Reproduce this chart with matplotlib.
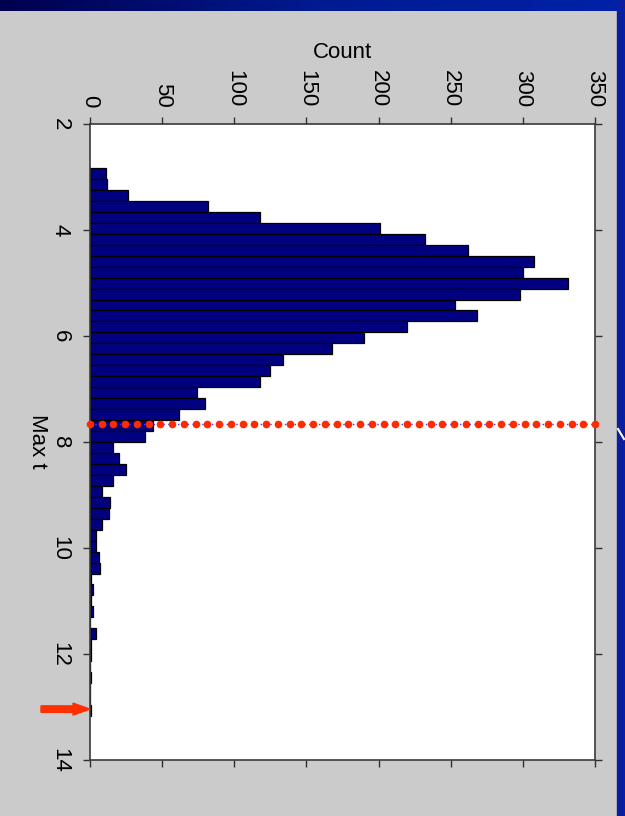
import numpy as np
import matplotlib
matplotlib.use("Agg")
import matplotlib.pyplot as plt
import matplotlib.patches as mpatches
from matplotlib.colors import LinearSegmentedColormap

plt.rcParams['font.family'] = ['Liberation Sans', 'DejaVu Sans']

# Histogram of the maximum t statistic (50 equal-width bins)
bin_start = 2.83
bin_width = 0.2068
counts = [11, 12, 26, 82, 118, 201, 232, 262, 308, 300,
          331, 298, 253, 268, 220, 190, 168, 134, 125, 118,
          74, 80, 62, 44, 38, 16, 20, 25, 16, 8,
          14, 13, 8, 4, 4, 6, 7, 1, 2, 1,
          2, 0, 4, 1, 1, 0, 1, 0, 0, 1]
threshold = 7.66      # cut-off marked by the dotted line
observed = 13.04      # value pointed at by the arrow

count_ticks = [0, 50, 100, 150, 200, 250, 300, 350]
maxt_ticks = [2, 4, 6, 8, 10, 12, 14]

W, H = 625, 816
fig = plt.figure(figsize=(W / 100, H / 100), dpi=100)

# slide background: grey panel with blue border strips
bg = fig.add_axes([0, 0, 1, 1], zorder=0)
bg.set_xlim(0, W)
bg.set_ylim(H, 0)
bg.axis('off')
bg.add_patch(mpatches.Rectangle((0, 0), W, H, color='#cbcbcb'))
grad = LinearSegmentedColormap.from_list('band', ['#00004e', '#001a90', '#0022a8'])
bg.imshow(np.linspace(0, 1, 256)[None, :], extent=(0, W, 11, 0),
          cmap=grad, aspect='auto', zorder=2)
bg.add_patch(mpatches.Rectangle((617, 0), W - 617, H, color='#0a1f9e', zorder=2))
bg.plot([618, 624], [429, 439], color='white', lw=1.5, zorder=3)

# main (rotated) histogram
ax = fig.add_axes([90 / W, 1 - 760 / H, 505 / W, 636 / H], zorder=1)
ax.set_facecolor('white')
n = len(counts)
edges = bin_start + bin_width * np.arange(n + 1)
centers = (edges[:-1] + edges[1:]) / 2
ax.barh(centers, counts, height=bin_width, color='#000080',
        edgecolor='black', linewidth=0.9, zorder=2)

ax.set_xlim(0, 350)
ax.set_ylim(14, 2)
ax.set_xticks(count_ticks)
ax.set_yticks(maxt_ticks)
ax.tick_params(axis='x', top=True, bottom=True, labeltop=True, labelbottom=False,
               direction='out', length=5, width=1, color='#303030',
               labelsize=16, pad=7, labelrotation=-90)
ax.tick_params(axis='y', left=True, right=True, labelleft=True, labelright=False,
               direction='out', length=5, width=1, color='#303030',
               labelsize=16, pad=9, labelrotation=-90)
for lbl in ax.get_xticklabels():
    lbl.set_verticalalignment('bottom')
    lbl.set_horizontalalignment('center')
for lbl in ax.get_yticklabels():
    lbl.set_verticalalignment('center')
    lbl.set_horizontalalignment('right')
for s in ax.spines.values():
    s.set_color('#3a3a3a')
    s.set_linewidth(1.2)

# threshold line: blue dotted line overlaid with red dots
ax.axhline(threshold, color='#3c3cff', lw=1.0, ls=(0, (1, 2.5)), zorder=3)
dots_x = np.linspace(0, 350, 44)
ax.plot(dots_x, np.full_like(dots_x, threshold), 'o', color='#ff2a00',
        ms=5.5, mec='none', zorder=4, clip_on=False)

fig.text(342.5 / W, 1 - 53 / H, 'Count', ha='center', va='center', fontsize=16)
fig.text(37 / W, 1 - 441 / H, 'Max t', ha='center', va='center',
         fontsize=16, rotation=-90)

# red arrow pointing at the observed statistic
y_arrow_px = ax.transData.transform((0, observed))[1]
arrow = mpatches.FancyArrow(0.41, y_arrow_px / 100, 0.49, 0, width=0.065,
                            head_width=0.12, head_length=0.17,
                            length_includes_head=True, color='#ff3000',
                            transform=fig.dpi_scale_trans, zorder=5)
fig.patches.append(arrow)

fig.savefig('out.png', dpi=100, facecolor='#cbcbcb')
